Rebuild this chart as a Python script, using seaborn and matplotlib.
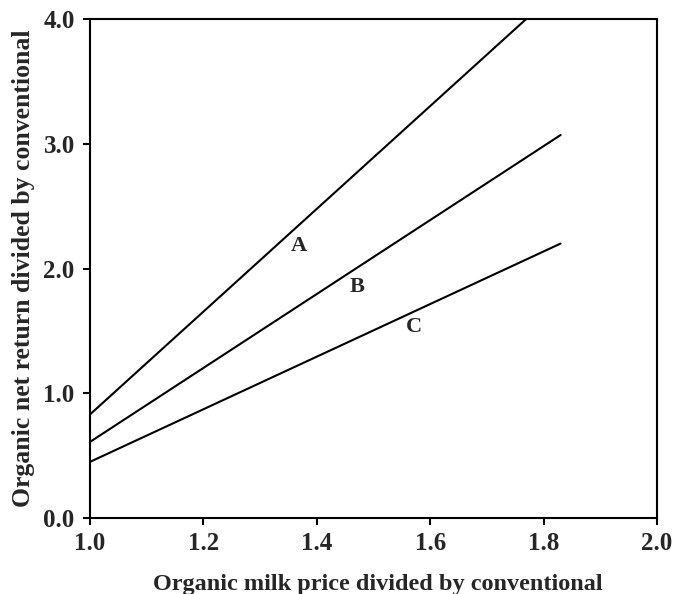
import matplotlib
matplotlib.use("Agg")
import matplotlib.pyplot as plt
import seaborn as sns
import pandas as pd

# Data
price_ratio = [1.0, 1.83]
line_a = [0.83, 4.25]
line_b = [0.61, 3.07]
line_c = [0.45, 2.20]
labels = ["A", "B", "C"]
label_x = [1.369, 1.471, 1.571]
label_y = [2.18, 1.85, 1.53]
x_ticks = [1.0, 1.2, 1.4, 1.6, 1.8, 2.0]
y_ticks = [0.0, 1.0, 2.0, 3.0, 4.0]

df = pd.DataFrame({
    "x": price_ratio * 3,
    "y": line_a + line_b + line_c,
    "line": ["A"] * 2 + ["B"] * 2 + ["C"] * 2,
})

sns.set_style("ticks")
plt.rcParams["font.family"] = ["Liberation Serif", "DejaVu Serif"]
plt.rcParams["font.weight"] = "bold"

fig = plt.figure(figsize=(6.74, 5.94), dpi=100)
ax = fig.add_axes([90 / 674, 1 - 518 / 594, (657 - 90) / 674, (518 - 19) / 594])

sns.lineplot(data=df, x="x", y="y", units="line", estimator=None,
             color="black", linewidth=1.5, ax=ax, legend=False)

for t, lx, ly in zip(labels, label_x, label_y):
    ax.text(lx, ly, t, ha="center", va="center", fontsize=16, fontweight="bold")

ax.set_xlim(1.0, 2.0)
ax.set_ylim(0.0, 4.0)
ax.set_xticks(x_ticks)
ax.set_yticks(y_ticks)
ax.set_xticklabels([f"{v:.1f}" for v in x_ticks], fontsize=18, fontweight="bold")
ax.set_yticklabels([f"{v:.1f}" for v in y_ticks], fontsize=18, fontweight="bold")
ax.tick_params(direction="out", length=5, width=1.5, color="black")
ax.tick_params(axis="x", pad=5)
ax.tick_params(axis="y", pad=6)
for s in ax.spines.values():
    s.set_visible(True)
    s.set_linewidth(1.5)
    s.set_color("black")

ax.set_xlabel("Organic milk price divided by conventional", fontsize=17.5,
              fontweight="bold")
ax.xaxis.set_label_coords(0.507, -0.113)
ax.set_ylabel("Organic net return divided by conventional", fontsize=18.5,
              fontweight="bold", labelpad=6)

fig.savefig("out.png", dpi=100)
